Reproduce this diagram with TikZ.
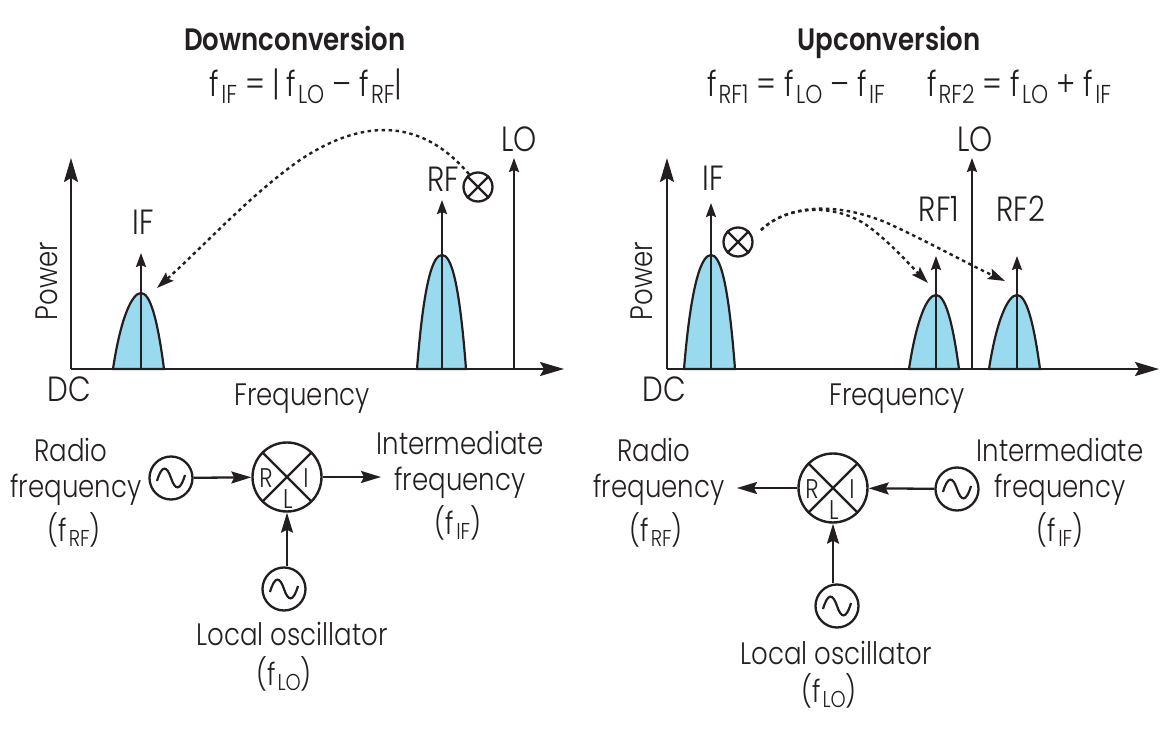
\documentclass[tikz,border=0pt]{standalone}
\usepackage{fontspec}
\setmainfont{Poppins}[UprightFont=* Light,BoldFont=* SemiBold,FakeStretch=0.84]
\usetikzlibrary{arrows.meta}
\definecolor{ink}{HTML}{231F20}
\definecolor{hump}{HTML}{9ADAEE}
\newcommand{\lsub}[1]{\raisebox{-0.32ex}{\scalebox{0.74}{#1}}}
\newcommand{\fq}[1]{f\kern2pt\lsub{#1}}
\newcommand{\humpshape}[4]{% left, centre, right, top
  \draw[hfill] (#1,369) .. controls ({#1+0.2*(#2-#1)+2},{#4+25}) and ({#2-9},#4) .. (#2,#4)
   .. controls ({#2+9},#4) and ({#3-0.2*(#3-#2)-2},{#4+25}) .. (#3,369) -- cycle;}
\newcommand{\sinewave}[1]{\draw[conn,shift={(#1.center)}] (-14,3) .. controls (-9,-14) and (-4,-12) .. (0,0) .. controls (4,12) and (9,14) .. (14,-3);}
\newcommand{\crossin}[1]{\draw[conn] (#1.45) -- (#1.225); \draw[conn] (#1.135) -- (#1.315);}
\tikzset{
  x=1pt,y=-1pt,
  txt/.style={font=\fontsize{31}{31}\selectfont,text=ink,inner sep=0pt,anchor=base},
  ttl/.style={txt,font=\fontsize{31}{31}\selectfont\bfseries},
  eqn/.style={txt,font=\fontsize{35}{35}\selectfont},
  lab/.style={txt,font=\fontsize{35}{35}\selectfont},
  port/.style={txt,font=\fontsize{27}{27}\selectfont},
  conn/.style={draw=ink,line width=2.2pt},
  hfill/.style={fill=hump,draw=ink,line width=2.2pt},
  axisline/.style={draw=ink,line width=2.3pt,-{Stealth[length=24pt,width=14pt,inset=4pt]}},
  carrier/.style={draw=ink,line width=2.3pt,-{Stealth[length=14pt,width=10pt,inset=2pt]}},
  flow/.style={draw=ink,line width=2.3pt,-{Stealth[length=20pt,width=12pt,inset=3pt]}},
  hop/.style={draw=ink,line width=2.4pt,dash pattern=on 3.5pt off 3.5pt,-{Stealth[length=17pt,width=11pt,inset=3pt]}},
  osc/.style={circle,draw=ink,line width=2.3pt,minimum size=43pt,inner sep=0pt},
  mixer/.style={circle,draw=ink,line width=2.4pt,minimum size=69pt,inner sep=0pt},
  xmark/.style={circle,draw=ink,line width=2.3pt,minimum size=29pt,inner sep=0pt}
}
\begin{document}
\begin{tikzpicture}
\useasboundingbox (0,0) rectangle (1171,730);
% ---------- left
\node[ttl] (dtitle) at (295,51) {Downconversion};
\node[eqn] (dform) at (306,97) {\fq{IF} = |\,\fq{LO} -- \fq{RF}|};
\humpshape{113}{141}{164}{293}
\humpshape{417}{442}{466}{255}
\coordinate (ld0) at (71,369);
\coordinate (ldy) at (71,158);
\coordinate (ldx) at (564,369);
\draw[axisline] (ld0) -- (ldy);
\draw[axisline] (ld0) -- (ldx);
\coordinate (ldif0) at (141,369); \coordinate (ldif1) at (141,253);
\coordinate (ldrf0) at (442,369); \coordinate (ldrf1) at (442,200);
\coordinate (ldlo0) at (514,369); \coordinate (ldlo1) at (514,158);
\draw[carrier] (ldif0) -- (ldif1);
\draw[carrier] (ldrf0) -- (ldrf1);
\draw[carrier] (ldlo0) -- (ldlo1);
\node[lab] (lif) at (143,235) {IF};
\node[lab] (lrf) at (443,192) {RF};
\node[lab] (llo) at (519,152) {LO};
\node[xmark] (lx) at (478,187) {};
\crossin{lx}
\coordinate (lhopend) at (157,288);
\draw[hop] (lx.125) .. controls (430,128) and (375,110) .. (300,160) .. controls (250,195) and (205,245) .. (lhopend);
\node[txt,rotate=90] (lpow) at (57,281) {Power};
\node[lab] (ldc) at (69,401) {DC};
\node[txt] (lfreq) at (302,405) {Frequency};
% left circuit
\node[mixer] (lm) at (287,477) {};
\crossin{lm}
\node[port] at (266,487) {R};
\node[port] at (306,487) {I};
\node[port] at (288,508) {L};
\node[osc] (lorf) at (171,478) {};
\node[osc] (lolo) at (284,589) {};
\sinewave{lorf}\sinewave{lolo}
\coordinate (lout) at (381,477);
\draw[flow] (lorf) -- (lm);
\draw[flow] (lm) -- (lout);
\draw[flow] (lolo.north -| lm.south) -- (lm.south);
\node[txt] (l1) at (71,461) {Radio};
\node[txt] (l2) at (76,497) {frequency};
\node[txt] (l3) at (74,541) {(\fq{RF})};
\node[txt] (l4) at (460,454) {Intermediate};
\node[txt] (l5) at (460,490) {frequency};
\node[txt] (l6) at (458,534) {(\fq{IF})};
\node[txt] (l7) at (292,645) {Local oscillator};
\node[txt] (l8) at (284,685) {(\fq{LO})};
% ---------- right
\node[ttl] (utitle) at (889,51) {Upconversion};
\node[eqn] (uform1) at (796,97) {\fq{RF1} = \fq{LO} -- \fq{IF}};
\node[eqn] (uform2) at (1019,97) {\fq{RF2} = \fq{LO} + \fq{IF}};
\humpshape{684}{711}{735}{255}
\humpshape{909}{936}{959}{295}
\humpshape{989}{1017}{1040}{295}
\coordinate (rd0) at (667,369);
\coordinate (rdy) at (667,158);
\coordinate (rdx) at (1159,369);
\draw[axisline] (rd0) -- (rdy);
\draw[axisline] (rd0) -- (rdx);
\coordinate (rif0) at (711,369); \coordinate (rif1) at (711,203);
\coordinate (rr10) at (936,369); \coordinate (rr11) at (936,256);
\coordinate (rr20) at (1017,369); \coordinate (rr21) at (1017,256);
\coordinate (rlo0) at (972,369); \coordinate (rlo1) at (972,158);
\draw[carrier] (rif0) -- (rif1);
\draw[carrier] (rr10) -- (rr11);
\draw[carrier] (rr20) -- (rr21);
\draw[carrier] (rlo0) -- (rlo1);
\node[lab] (rif) at (713,191) {IF};
\node[lab] (rr1) at (939,222) {RF1};
\node[lab] (rr2) at (1021,222) {RF2};
\node[lab] (rlo) at (975,152) {LO};
\node[xmark] (rx) at (738,242) {};
\crossin{rx}
\coordinate (rhopstart) at (761,230);
\coordinate (rhop1) at (928,283);
\coordinate (rhop2) at (1005,281);
\draw[hop] (rhopstart) .. controls (785,207) and (830,202) .. (865,224) .. controls (888,240) and (910,265) .. (rhop1);
\draw[hop] (rhopstart) .. controls (785,207) and (830,200) .. (885,222) .. controls (925,240) and (970,265) .. (rhop2);
\node[txt,rotate=90] (rpow) at (652,281) {Power};
\node[lab] (rdc) at (664,401) {DC};
\node[txt] (rfreq) at (897,405) {Frequency};
% right circuit
\node[mixer] (rm) at (833,488) {};
\crossin{rm}
\node[port] at (812,498) {R};
\node[port] at (852,498) {I};
\node[port] at (834,519) {L};
\node[osc] (roif) at (957,489) {};
\node[osc] (rolo) at (837,606) {};
\sinewave{roif}\sinewave{rolo}
\coordinate (rout) at (737,488);
\draw[flow] (roif) -- (rm);
\draw[flow] (rm) -- (rout);
\draw[flow] (rolo.north -| rm.south) -- (rm.south);
\node[txt] (r1) at (654,461) {Radio};
\node[txt] (r2) at (659,497) {frequency};
\node[txt] (r3) at (656,541) {(\fq{RF})};
\node[txt] (r4) at (1060,461) {Intermediate};
\node[txt] (r5) at (1060,497) {frequency};
\node[txt] (r6) at (1060,541) {(\fq{IF})};
\node[txt] (r7) at (836,664) {Local oscillator};
\node[txt] (r8) at (829,702) {(\fq{LO})};
\end{tikzpicture}
\end{document}
